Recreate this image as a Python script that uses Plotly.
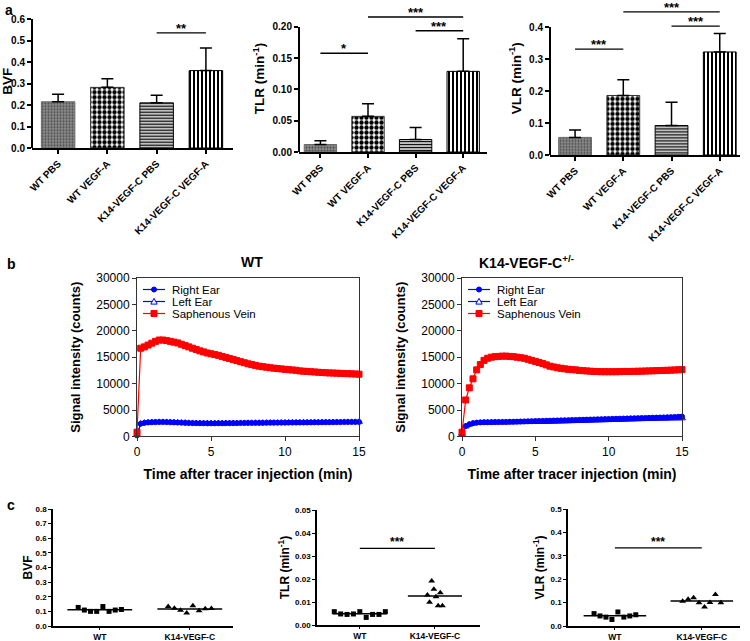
import plotly.graph_objects as go
import numpy as np

W, H = 750, 641
FONT = "Arial, Liberation Sans, sans-serif"

# ---------------- panel a : bar charts ----------------
groups_a = ["WT PBS", "WT VEGF-A", "K14-VEGF-C PBS", "K14-VEGF-C VEGF-A"]
bvf_mean = [0.215, 0.282, 0.210, 0.360]
bvf_sem = [0.035, 0.040, 0.035, 0.105]
tlr_mean = [0.012, 0.057, 0.020, 0.129]
tlr_sem = [0.006, 0.020, 0.019, 0.052]
vlr_mean = [0.055, 0.186, 0.092, 0.322]
vlr_sem = [0.023, 0.049, 0.073, 0.058]
# significance: (group i, group j, bar height, label)
bvf_sig = [(2, 3, 0.535, "**")]
tlr_sig = [(0, 1, 0.158, "*"), (1, 3, 0.216, "***"), (2, 3, 0.194, "***")]
vlr_sig = [(0, 1, 0.331, "***"), (1, 3, 0.447, "***"), (2, 3, 0.403, "***")]

# ---------------- panel b : time curves ----------------
time_min = [0, 0.25, 0.5, 0.75, 1, 1.25, 1.5, 1.75, 2, 2.25, 2.5, 2.75, 3, 3.25, 3.5, 3.75,
            4, 4.25, 4.5, 4.75, 5, 5.25, 5.5, 5.75, 6, 6.25, 6.5, 6.75, 7, 7.25, 7.5, 7.75,
            8, 8.25, 8.5, 8.75, 9, 9.25, 9.5, 9.75, 10, 10.25, 10.5, 10.75, 11, 11.25, 11.5,
            11.75, 12, 12.25, 12.5, 12.75, 13, 13.25, 13.5, 13.75, 14, 14.25, 14.5, 14.75, 15]
wt_right_ear = [200, 2400, 2560, 2640, 2680, 2700, 2710, 2710, 2700, 2680, 2650, 2620, 2590,
                2560, 2530, 2510, 2500, 2490, 2480, 2470, 2470, 2470, 2480, 2480, 2490, 2500,
                2510, 2510, 2520, 2530, 2540, 2540, 2550, 2560, 2560, 2570, 2580, 2580, 2590,
                2600, 2600, 2610, 2620, 2620, 2630, 2640, 2640, 2650, 2660, 2660, 2670, 2680,
                2680, 2690, 2700, 2700, 2710, 2720, 2720, 2730, 2740]
wt_left_ear = [300, 2450, 2600, 2680, 2720, 2740, 2750, 2750, 2740, 2720, 2690, 2660, 2630,
               2600, 2570, 2550, 2530, 2520, 2510, 2500, 2500, 2500, 2510, 2510, 2520, 2530,
               2540, 2540, 2550, 2560, 2570, 2570, 2580, 2590, 2590, 2600, 2610, 2610, 2620,
               2630, 2630, 2640, 2650, 2650, 2660, 2670, 2670, 2680, 2690, 2690, 2700, 2710,
               2710, 2720, 2730, 2730, 2740, 2750, 2750, 2760, 2770]
wt_vein = [800, 16700, 16950, 17300, 17650, 18000, 18250, 18250, 18150, 18000, 17850, 17700,
           17450, 17200, 16950, 16700, 16450, 16200, 16000, 15800, 15650, 15500, 15350, 15150,
           14950, 14750, 14550, 14350, 14150, 13950, 13750, 13600, 13450, 13300, 13200, 13100,
           13000, 12920, 12850, 12780, 12700, 12640, 12580, 12520, 12400, 12350, 12300, 12250,
           12200, 12150, 12100, 12050, 12020, 12000, 11970, 11940, 11910, 11880, 11850, 11820,
           11780]
k14_right_ear = [500, 1950, 2300, 2500, 2600, 2650, 2680, 2690, 2700, 2720, 2730, 2740, 2750,
                 2770, 2780, 2800, 2820, 2840, 2860, 2880, 2900, 2920, 2940, 2960, 2980, 3000,
                 3020, 3040, 3060, 3080, 3100, 3120, 3140, 3160, 3180, 3200, 3220, 3240, 3260,
                 3280, 3300, 3320, 3340, 3360, 3380, 3400, 3420, 3440, 3460, 3480, 3500, 3520,
                 3540, 3560, 3580, 3600, 3620, 3650, 3680, 3720, 3760]
k14_left_ear = [500, 1900, 2250, 2450, 2550, 2600, 2620, 2630, 2640, 2650, 2650, 2660, 2660,
                2670, 2680, 2690, 2700, 2710, 2720, 2730, 2740, 2750, 2760, 2770, 2780, 2800,
                2810, 2830, 2850, 2870, 2890, 2910, 2930, 2950, 2970, 2990, 3010, 3030, 3050,
                3070, 3090, 3110, 3130, 3150, 3170, 3190, 3210, 3230, 3250, 3270, 3290, 3300,
                3320, 3340, 3350, 3370, 3380, 3400, 3410, 3420, 3430]
k14_vein = [800, 6900, 9200, 10900, 12600, 13600, 14400, 14800, 15000, 15100, 15150, 15200,
            15200, 15150, 15100, 15000, 14900, 14800, 14600, 14400, 14200, 14000, 13800, 13550,
            13300, 13150, 13000, 12900, 12800, 12700, 12650, 12600, 12500, 12450, 12400, 12350,
            12300, 12280, 12250, 12250, 12250, 12250, 12250, 12270, 12300, 12300, 12300, 12320,
            12340, 12350, 12380, 12400, 12420, 12450, 12480, 12500, 12520, 12550, 12580, 12620,
            12650]
series_names = ["Right Ear", "Left Ear", "Saphenous Vein"]

# ---------------- panel c : scatter plots ----------------
groups_c = ["WT", "K14-VEGF-C"]
bvf_wt = [0.127, 0.109, 0.100, 0.100, 0.133, 0.100, 0.109, 0.113]
bvf_k14 = [0.133, 0.122, 0.108, 0.089, 0.138, 0.104, 0.118, 0.120]
tlr_wt = [0.0058, 0.0048, 0.0046, 0.0048, 0.0058, 0.0033, 0.0046, 0.0046, 0.0058]
tlr_k14 = [0.0130, 0.0099, 0.0191, 0.0155, 0.0123, 0.0084, 0.0140, 0.0084]
vlr_wt = [0.053, 0.043, 0.038, 0.028, 0.060, 0.038, 0.043, 0.048]
vlr_k14 = [0.106, 0.114, 0.121, 0.099, 0.081, 0.100, 0.135, 0.099]
tlr_c_sig = (0, 1, 0.0333, "***")
vlr_c_sig = (0, 1, 0.334, "***")


def px(x):
    return min(max(x / W, 0.0), 1.0)


def py(y):
    return min(max(1 - y / H, 0.0), 1.0)


fig = go.Figure()
layout = {}
shapes = []
annotations = []

# ---------- panel a ----------
bar_styles = [
    dict(shape=".", fg="#4a4a4a", bg="#8c8c8c", size=3, sol=0.4, edge="#6a6a6a"),
    dict(shape=".", fg="black", bg="white", size=5, sol=0.6, edge="#333333"),
    dict(shape="-", fg="black", bg="white", size=3, sol=0.5, edge="black"),
    dict(shape="|", fg="black", bg="white", size=4, sol=0.5, edge="black"),
]

bar_panels = [
    (1, 32, 233, 148, 14.7, [0, 0.62], 0.6, 0.1, ".1f", "BVF", bvf_mean, bvf_sem, bvf_sig, [-0.53, 3.55]),
    (2, 299, 487, 152, 5.1, [0, 0.235], 0.2, 0.05, ".2f", "TLR (min<sup>-1</sup>)", tlr_mean, tlr_sem, tlr_sig, [-0.45, 3.5]),
    (3, 550, 740, 155, 1.4, [0, 0.48], 0.4, 0.1, ".1f", "VLR (min<sup>-1</sup>)", vlr_mean, vlr_sem, vlr_sig, [-0.52, 3.42]),
]
for idx, x0, x1, yb, yt, yr, ttop, dt, fmt, ttl, means, sems, sigs, xr in bar_panels:
    xa, ya = f"x{idx}", f"y{idx}"
    for i, st in enumerate(bar_styles):
        fig.add_trace(go.Bar(
            x=[i], y=[means[i]], width=0.68, xaxis=xa, yaxis=ya, showlegend=False,
            marker=dict(color=st["bg"], line=dict(color=st["edge"], width=1),
                        pattern=dict(shape=st["shape"], fgcolor=st["fg"], bgcolor=st["bg"],
                                     size=st["size"], solidity=st["sol"])),
            error_y=dict(type="data", array=[sems[i]], arrayminus=[0], symmetric=False,
                         color="black", thickness=1.5, width=6),
        ))
    layout[f"xaxis{idx}"] = dict(
        domain=[px(x0), px(x1)], range=xr, anchor=ya, tickmode="array",
        tickvals=list(range(len(groups_a))), ticktext=groups_a, tickangle=-45,
        showline=True, linecolor="black", linewidth=2, ticks="outside", ticklen=4,
        tickwidth=1.5, tickcolor="black", showgrid=False, zeroline=False,
        tickfont=dict(family=FONT, size=10, color="black", weight="bold"))
    layout[f"yaxis{idx}"] = dict(
        domain=[py(yb), py(yt)], range=yr, anchor=xa, tick0=0, dtick=dt, tickformat=fmt,
        showline=False, ticks="outside", ticklen=4, tickwidth=1.5, tickcolor="black",
        showgrid=False, zeroline=False,
        tickfont=dict(family=FONT, size=10, color="black", weight="bold"),
        title=dict(text=ttl, standoff=4, font=dict(family=FONT, size=13.5, color="black", weight="bold")))
    shapes.append(dict(type="line", xref="paper", yref=ya, x0=px(x0), x1=px(x0), y0=0, y1=ttop,
                       line=dict(color="black", width=2)))
    for i, j, yv, lab in sigs:
        shapes.append(dict(type="line", xref=xa, yref=ya, x0=i, x1=j, y0=yv, y1=yv,
                           line=dict(color="black", width=1.3)))
        annotations.append(dict(xref=xa, yref=ya, x=(i + j) / 2, y=yv, text=lab, showarrow=False,
                                yanchor="bottom", yshift=-4, borderpad=0,
                                font=dict(family=FONT, size=13, color="black", weight="bold")))

# ---------- panel b ----------
line_panels = [
    (4, 137, 359, "WT", [wt_right_ear, wt_left_ear, wt_vein]),
    (5, 462, 682, "K14-VEGF-C<sup>+/-</sup>", [k14_right_ear, k14_left_ear, k14_vein]),
]
styles = [
    dict(color="#0000ff", symbol="circle", size=5),
    dict(color="#0000ff", symbol="triangle-up-open", size=6),
    dict(color="#ff0000", symbol="square", size=6),
]
legend_rows = [289.5, 301.5, 313.5]
for idx, x0, x1, ttl, series in line_panels:
    xa, ya = f"x{idx}", f"y{idx}"
    for name, vals, st in zip(series_names, series, styles):
        fig.add_trace(go.Scatter(
            x=time_min, y=vals, name=name, mode="lines+markers", xaxis=xa, yaxis=ya,
            showlegend=False, cliponaxis=False,
            line=dict(color=st["color"], width=1.2),
            marker=dict(color=st["color"], symbol=st["symbol"], size=st["size"],
                        line=dict(color=st["color"], width=1))))
    layout[f"xaxis{idx}"] = dict(
        domain=[px(x0), px(x1)], range=[0, 15], anchor=ya, tick0=0, dtick=5,
        showline=True, mirror=True, linecolor="#333", linewidth=1, ticks="outside", ticklen=4,
        tickcolor="#333", showgrid=False, zeroline=False,
        tickfont=dict(family=FONT, size=12, color="black"),
        title=dict(text="Time after tracer injection (min)", standoff=11,
                   font=dict(family=FONT, size=14, color="black", weight="bold")))
    layout[f"yaxis{idx}"] = dict(
        domain=[py(436.4), py(278)], range=[0, 30000], anchor=xa, tick0=0, dtick=5000,
        tickformat="d", showline=True, mirror=True, linecolor="#333", linewidth=1,
        ticks="outside", ticklen=4, tickcolor="#333", showgrid=False, zeroline=False,
        tickfont=dict(family=FONT, size=12, color="black"),
        title=dict(text="Signal intensity (counts)", standoff=12,
                   font=dict(family=FONT, size=13, color="black", weight="bold")))
    annotations.append(dict(xref="paper", yref="paper", x=px((x0 + x1) / 2 + 4), y=py(262),
                            text=ttl, showarrow=False, yanchor="middle",
                            font=dict(family=FONT, size=14, color="black", weight="bold")))
    # legend drawn as key glyphs + text inside the plot box
    for name, st, ry in zip(series_names, styles, legend_rows):
        yy = py(ry)
        shapes.append(dict(type="line", xref="paper", yref="paper", x0=px(x0 + 6), x1=px(x0 + 28),
                           y0=yy, y1=yy, line=dict(color=st["color"], width=1.2)))
        mx = px(x0 + 17)
        if st["symbol"] == "circle":
            shapes.append(dict(type="circle", xref="paper", yref="paper", xsizemode="pixel",
                               ysizemode="pixel", xanchor=mx, yanchor=yy, x0=-2.5, x1=2.5,
                               y0=-2.5, y1=2.5, fillcolor=st["color"], line=dict(color=st["color"], width=1)))
        elif st["symbol"] == "square":
            shapes.append(dict(type="rect", xref="paper", yref="paper", xsizemode="pixel",
                               ysizemode="pixel", xanchor=mx, yanchor=yy, x0=-3, x1=3,
                               y0=-3, y1=3, fillcolor=st["color"], line=dict(color=st["color"], width=1)))
        else:
            shapes.append(dict(type="path", xref="paper", yref="paper", xsizemode="pixel",
                               ysizemode="pixel", xanchor=mx, yanchor=yy,
                               path="M-3.2,-2.6 L3.2,-2.6 L0,3.2 Z", fillcolor="white",
                               line=dict(color=st["color"], width=1)))
        annotations.append(dict(xref="paper", yref="paper", x=px(x0 + 34), y=yy, text=name,
                                showarrow=False, xanchor="left", yanchor="middle", borderpad=0,
                                font=dict(family=FONT, size=11.5, color="black")))

# ---------- panel c ----------
scatter_panels = [
    (6, 53, 233, 626, 509, [0, 0.8], 0.1, ".1f", "BVF", bvf_wt, bvf_k14, None, [-0.52, 1.48], (0.24, 0.24), 0),
    (7, 317, 480, 625, 510, [0, 0.05], 0.01, ".2f", "TLR (min<sup>-1</sup>)", tlr_wt, tlr_k14, tlr_c_sig, [-0.57, 1.6], (0.34, 0.1), 3),
    (8, 568, 740, 626, 509, [0, 0.5], 0.1, ".1f", "VLR (min<sup>-1</sup>)", vlr_wt, vlr_k14, vlr_c_sig, [-0.54, 1.44], (0.24, 0.22), 3),
]
for idx, x0, x1, yb, yt, yr, dt, fmt, ttl, wt, k14, sig, xr, spread, so in scatter_panels:
    xa, ya = f"x{idx}", f"y{idx}"
    for g, (vals, sym, sz, sp) in enumerate([(wt, "square", 5, spread[0]),
                                              (k14, "triangle-up", 6, spread[1])]):
        xs = g + np.linspace(-sp, sp, len(vals))
        fig.add_trace(go.Scatter(x=xs, y=vals, mode="markers", xaxis=xa, yaxis=ya,
                                 showlegend=False, cliponaxis=False,
                                 marker=dict(color="black", symbol=sym, size=sz)))
        m = float(np.mean(vals))
        shapes.append(dict(type="line", xref=xa, yref=ya, x0=g - 0.36, x1=g + 0.36, y0=m, y1=m,
                           line=dict(color="black", width=1.5)))
    layout[f"xaxis{idx}"] = dict(
        domain=[px(x0), px(x1)], range=xr, anchor=ya, tickmode="array", tickvals=[0, 1],
        ticktext=groups_c, showline=True, linecolor="black", linewidth=1.5, ticks="outside",
        ticklen=2, tickcolor="black", showgrid=False, zeroline=False,
        tickfont=dict(family=FONT, size=8.5, color="black", weight="bold"))
    layout[f"yaxis{idx}"] = dict(
        domain=[py(yb), py(yt)], range=yr, anchor=xa, tick0=0, dtick=dt, tickformat=fmt,
        showline=True, linecolor="black", linewidth=1.5, ticks="outside", ticklen=3,
        tickcolor="black", showgrid=False, zeroline=False,
        tickfont=dict(family=FONT, size=8, color="black", weight="bold"),
        title=dict(text=ttl, standoff=so, font=dict(family=FONT, size=12, color="black", weight="bold")))
    if sig:
        i, j, yv, lab = sig
        shapes.append(dict(type="line", xref=xa, yref=ya, x0=i, x1=j, y0=yv, y1=yv,
                           line=dict(color="black", width=1.2)))
        annotations.append(dict(xref=xa, yref=ya, x=(i + j) / 2, y=yv, text=lab, showarrow=False,
                                yanchor="bottom", yshift=-3,
                                font=dict(family=FONT, size=12, color="black", weight="bold")))

# panel letters
for lab, xx, yy in [("a", 9, 10), ("b", 11, 264), ("c", 11, 505)]:
    annotations.append(dict(xref="paper", yref="paper", x=px(xx), y=py(yy), text=lab,
                            showarrow=False, xanchor="center", yanchor="middle",
                            font=dict(family=FONT, size=14, color="black", weight="bold")))

fig.update_layout(
    width=W, height=H, margin=dict(l=0, r=0, t=0, b=0),
    paper_bgcolor="white", plot_bgcolor="white", template="none",
    font=dict(family=FONT, color="black"), showlegend=False,
    shapes=shapes, annotations=annotations, **layout)

fig.write_html("out.html", config={"displayModeBar": False},
               post_script="document.body.style.margin='0px';document.body.style.overflow='hidden';")
